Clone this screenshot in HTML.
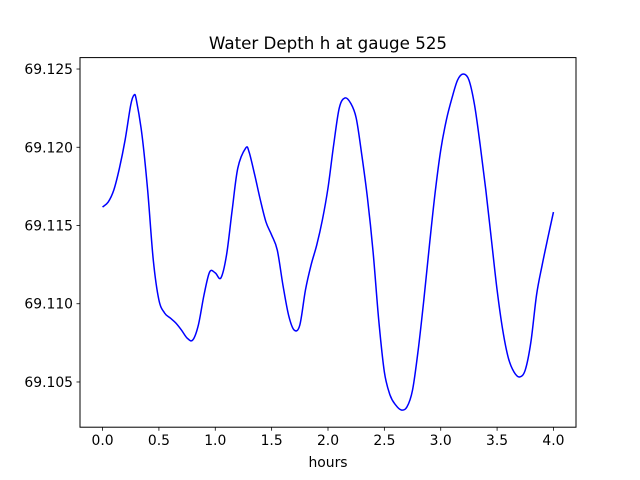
<!DOCTYPE html>
<html><head><meta charset="utf-8"><style>
body{margin:0;background:#fff;}
svg{display:block;font-family:"DejaVu Sans","Liberation Sans",sans-serif;}
</style></head><body>
<svg id="chart" width="640" height="480" viewBox="0 0 640 480">
<rect width="640" height="480" fill="#fff"/>
<text x="328" y="49" font-size="16.7" text-anchor="middle">Water Depth h at gauge 525</text>
<g id="xticks"></g>
<g id="yticks"></g>
<path id="line" fill="none" stroke="#0000ff" stroke-width="1.5" stroke-linejoin="round"/>
<rect x="80" y="57.6" width="496" height="369.6" fill="none" stroke="#000" stroke-width="1"/>
<text x="328" y="467" font-size="13.9" text-anchor="middle">hours</text>
</svg>
<script>
const hours=[0,0.05,0.1,0.15,0.2,0.25,0.28,0.3,0.35,0.4,0.45,0.5,0.55,0.6,0.65,0.7,0.75,0.8,0.85,0.9,0.95,1.0,1.05,1.1,1.15,1.2,1.27,1.3,1.35,1.4,1.45,1.5,1.55,1.6,1.65,1.7,1.75,1.8,1.85,1.9,1.95,2.0,2.05,2.1,2.15,2.2,2.25,2.3,2.35,2.4,2.45,2.5,2.55,2.6,2.65,2.7,2.75,2.8,2.85,2.9,2.95,3.0,3.05,3.1,3.15,3.2,3.25,3.3,3.35,3.4,3.45,3.5,3.55,3.6,3.65,3.7,3.75,3.8,3.85,3.9,3.95,4.0];
const depth=[69.11618,69.11650,69.11727,69.11867,69.12046,69.12270,69.12334,69.12302,69.12078,69.11727,69.11280,69.11024,69.10941,69.10909,69.10877,69.10832,69.10781,69.10768,69.10864,69.11056,69.11203,69.11197,69.11165,69.11312,69.11599,69.11867,69.11995,69.11970,69.11823,69.11663,69.11522,69.11439,69.11343,69.11120,69.10928,69.10832,69.10864,69.11088,69.11248,69.11375,69.11535,69.11740,69.12014,69.12251,69.12315,69.12283,69.12187,69.11950,69.11676,69.11331,69.10896,69.10564,69.10417,69.10353,69.10321,69.10340,69.10449,69.10704,69.11024,69.11375,69.11708,69.11982,69.12174,69.12315,69.12430,69.12468,69.12430,69.12270,69.12014,69.11727,69.11407,69.11088,69.10832,69.10653,69.10564,69.10532,69.10577,69.10756,69.11056,69.11248,69.11420,69.11586];
const xTicks=[0,0.5,1.0,1.5,2.0,2.5,3.0,3.5,4.0];
const xTickLabels=["0.0","0.5","1.0","1.5","2.0","2.5","3.0","3.5","4.0"];
const yTicks=[69.105,69.110,69.115,69.120,69.125];
const yTickLabels=["69.105","69.110","69.115","69.120","69.125"];
const L=80,R=576,T=57.6,B=427.2,xmin=-0.2,xmax=4.2,ymin=69.10211,ymax=69.12573;
const X=v=>L+(v-xmin)/(xmax-xmin)*(R-L);
const Y=v=>B-(v-ymin)/(ymax-ymin)*(B-T);
const NS="http://www.w3.org/2000/svg";
function mk(tag,attrs,parent){const e=document.createElementNS(NS,tag);for(const k in attrs)e.setAttribute(k,attrs[k]);parent.appendChild(e);return e;}
const xg=document.getElementById('xticks'),yg=document.getElementById('yticks');
xTicks.forEach((t,i)=>{
  const l=mk('line',{x1:X(t),x2:X(t),y1:B,y2:B+3.5,stroke:'#000','stroke-width':0.8},xg);
  
  
  const tx=mk('text',{x:X(t),y:B+18,'font-size':13.9,'text-anchor':'middle'},xg);
  
  
  tx.textContent=xTickLabels[i];
});
yTicks.forEach((t,i)=>{
  const l=mk('line',{x1:L-3.5,x2:L,y1:Y(t),y2:Y(t),stroke:'#000','stroke-width':0.8},yg);
  
  
  const tx=mk('text',{x:L-7,y:Y(t)+5,'font-size':13.9,'text-anchor':'end'},yg);
  
  
  tx.textContent=yTickLabels[i];
});
const pts=hours.map((h,i)=>[X(h),Y(depth[i])]);
let d='M'+pts[0][0]+','+pts[0][1];
for(let i=0;i<pts.length-1;i++){
  const p0=pts[Math.max(0,i-1)],p1=pts[i],p2=pts[i+1],p3=pts[Math.min(pts.length-1,i+2)];
  const c1=[p1[0]+(p2[0]-p0[0])/6,p1[1]+(p2[1]-p0[1])/6];
  const c2=[p2[0]-(p3[0]-p1[0])/6,p2[1]-(p3[1]-p1[1])/6];
  d+=' C'+c1[0]+','+c1[1]+' '+c2[0]+','+c2[1]+' '+p2[0]+','+p2[1];
}
document.getElementById('line').setAttribute('d',d);
</script>
</body></html>
